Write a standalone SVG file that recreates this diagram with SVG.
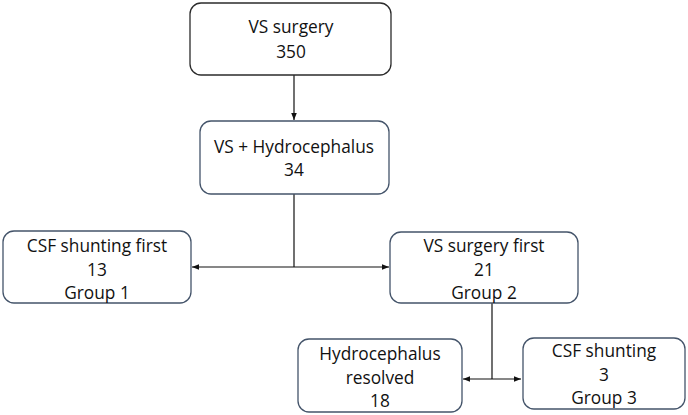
<svg xmlns="http://www.w3.org/2000/svg" width="688" height="415" viewBox="0 0 688 415">
<defs>
<style>
.b{fill:#fff;stroke:#44546a;stroke-width:1.3}
.b0{fill:#fff;stroke:#2b2b2b;stroke-width:1.3}
.t{font-family:"Open Sans","Liberation Sans",sans-serif;font-size:17.3px;fill:#111;text-anchor:middle}
.c{fill:none;stroke:#111;stroke-width:1.2}
</style>
<marker id="a" viewBox="0 0 10 10" refX="10" refY="5" markerWidth="7" markerHeight="7" orient="auto-start-reverse" markerUnits="userSpaceOnUse"><path d="M0,1 L10,5 L0,9 Z" fill="#111"/></marker>
</defs>
<rect width="688" height="415" fill="#fff"/>
<g id="connectors">
<path class="c" d="M294,75 V120" marker-end="url(#a)"/>
<path class="c" d="M294,194 V267"/>
<path class="c" d="M192,267 H389" marker-start="url(#a)" marker-end="url(#a)"/>
<path class="c" d="M492,303 V379"/>
<path class="c" d="M463,379 H521" marker-start="url(#a)" marker-end="url(#a)"/>
</g>
<g id="n1"><rect class="b0" x="190" y="3" width="201" height="72" rx="11"/>
<text class="t" x="291" y="33">VS surgery</text><text class="t" x="291" y="58">350</text></g>
<g id="n2"><rect class="b" x="200" y="121" width="189" height="73" rx="11"/>
<text class="t" x="294" y="153">VS + Hydrocephalus</text><text class="t" x="294" y="176">34</text></g>
<g id="n3"><rect class="b" x="3" y="231" width="188" height="72" rx="11"/>
<text class="t" x="97" y="252">CSF shunting first</text><text class="t" x="97" y="276">13</text><text class="t" x="97" y="299">Group 1</text></g>
<g id="n4"><rect class="b" x="390" y="232" width="188" height="71" rx="11"/>
<text class="t" x="484" y="252">VS surgery first</text><text class="t" x="484" y="276">21</text><text class="t" x="484" y="299">Group 2</text></g>
<g id="n5"><rect class="b" x="298" y="339" width="164" height="73" rx="11"/>
<text class="t" x="380" y="360">Hydrocephalus</text><text class="t" x="380" y="384">resolved</text><text class="t" x="380" y="407">18</text></g>
<g id="n6"><rect class="b" x="523" y="338" width="162" height="71" rx="11"/>
<text class="t" x="604" y="357">CSF shunting</text><text class="t" x="604" y="381">3</text><text class="t" x="604" y="404">Group 3</text></g>
</svg>
